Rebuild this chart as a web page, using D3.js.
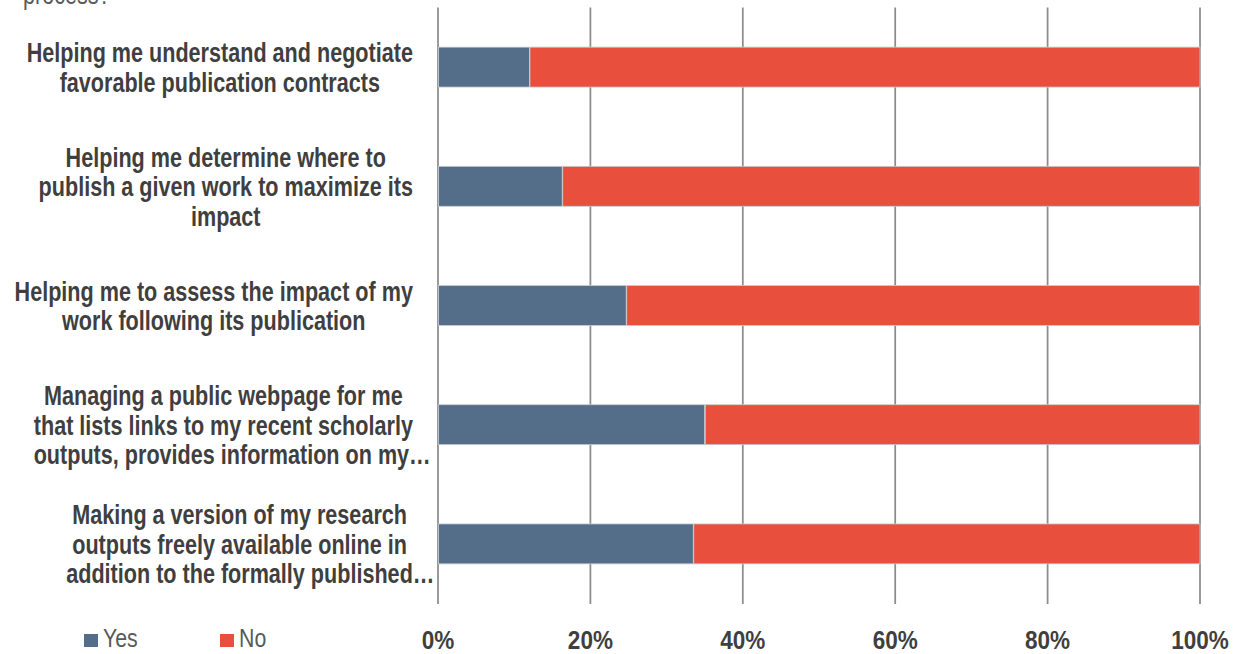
<!DOCTYPE html>
<html>
<head>
<meta charset="utf-8">
<script src="https://cdn.jsdelivr.net/npm/d3@7"></script>
<style>
  html, body { margin: 0; padding: 0; background: #fff; }
  svg { display: block; }
  text { font-family: "Liberation Sans", Arial, sans-serif; }
</style>
</head>
<body>
<svg id="chart" width="1242" height="654"></svg>
<script>
// ---- data ----
const categories = [
  ["Helping me understand and negotiate", "favorable publication contracts"],
  ["Helping me determine where to", "publish a given work to maximize its", "impact"],
  ["Helping me to assess the impact of my", "work following its publication"],
  ["Managing a public webpage for me", "that lists links to my recent scholarly", "outputs, provides information on my…"],
  ["Making a version of my research", "outputs freely available online in", "addition to the formally published…"]
];
const seriesNames = ["Yes", "No"];
const yesValues = [0.12, 0.163, 0.247, 0.35, 0.335];
const noValues = [0.88, 0.837, 0.753, 0.65, 0.665];
const tickValues = [0, 0.2, 0.4, 0.6, 0.8, 1.0];
const titleFragment = "process?";

// ---- layout ----
const colors = { Yes: "#546D89", No: "#E84F3D" };
const svg = d3.select("#chart");
const plot = { left: 438, right: 1200, top: 7.5, bottom: 603.5 };
const SX = 0.8; // horizontal condensation to mimic a narrow font

const x = d3.scaleLinear().domain([0, 1]).range([plot.left, plot.right]);
const y = d3.scaleBand().domain(d3.range(categories.length))
  .range([plot.top, plot.bottom]).paddingInner(0.665).paddingOuter(0.3325);

// cut-off title text at top (as in the reference)
svg.append("text")
  .attr("transform", `translate(23,3.5) scale(${SX},1)`)
  .attr("font-size", 27).attr("fill", "#595959")
  .text(titleFragment);

// gridlines
svg.append("g").selectAll("line").data(tickValues).join("line")
  .attr("x1", d => x(d)).attr("x2", d => x(d))
  .attr("y1", plot.top).attr("y2", plot.bottom + 0.5)
  .attr("stroke", "#8c8c8c").attr("stroke-width", 1.75);

// stacked bars
const rows = categories.map((c, i) => ({ i, Yes: yesValues[i], No: noValues[i] }));
const stack = d3.stack().keys(seriesNames)(rows);
svg.append("g").selectAll("g").data(stack).join("g")
  .attr("fill", d => colors[d.key])
  .selectAll("rect").data(d => d).join("rect")
  .attr("x", d => x(d[0]) + 0.5)
  .attr("width", d => x(d[1]) - x(d[0]) - 0.5)
  .attr("y", d => y(d.data.i))
  .attr("height", y.bandwidth())
  .attr("stroke", "#c8ccd2").attr("stroke-width", 0.8);

// x-axis tick labels
svg.append("g").selectAll("text").data(tickValues).join("text")
  .attr("transform", d => `translate(${x(d)},648.5) scale(0.85,1)`)
  .attr("text-anchor", "middle")
  .attr("font-size", 26.5).attr("font-weight", "bold").attr("fill", "#3f3f3f")
  .text(d => d3.format(".0%")(d));

// category labels (lines centred within a block right-aligned at 413)
const labelRight = 413, lineH = 29.5;
categories.forEach((lines, i) => {
  const cy = y(i) + y.bandwidth() / 2;
  const g = svg.append("g");
  const n = lines.length;
  const texts = lines.map(t => g.append("text")
    .attr("font-size", 27).attr("font-weight", "bold").attr("fill", "#3f3f3f")
    .text(t));
  const widths = lines.map((t, k) => {
    const full = texts[k].node().getComputedTextLength();
    if (t.endsWith("…")) {
      const tmp = g.append("text").attr("font-size", 27).attr("font-weight", "bold").text("…");
      const ew = tmp.node().getComputedTextLength();
      tmp.remove();
      return full - ew;
    }
    return full;
  });
  const bw = d3.max(widths);
  lines.forEach((t, k) => {
    const by = cy + (k - (n - 1) / 2) * lineH + 10;
    const ell = t.endsWith("…");
    const lx = ell ? -bw : -bw / 2;
    texts[k]
      .attr("text-anchor", ell ? "start" : "middle")
      .attr("transform", `translate(${labelRight},${by}) scale(${SX},1) translate(${lx},0)`);
  });
});

// legend
const legend = svg.append("g");
const legendItems = [{ key: "Yes", sx: 84, tx: 103 }, { key: "No", sx: 220, tx: 239 }];
legendItems.forEach(it => {
  legend.append("rect").attr("x", it.sx).attr("y", 634).attr("width", 14).attr("height", 13)
    .attr("fill", colors[it.key]);
  legend.append("text")
    .attr("transform", `translate(${it.tx},647) scale(0.82,1)`)
    .attr("font-size", 26).attr("fill", "#595959")
    .text(it.key);
});
</script>
</body>
</html>
